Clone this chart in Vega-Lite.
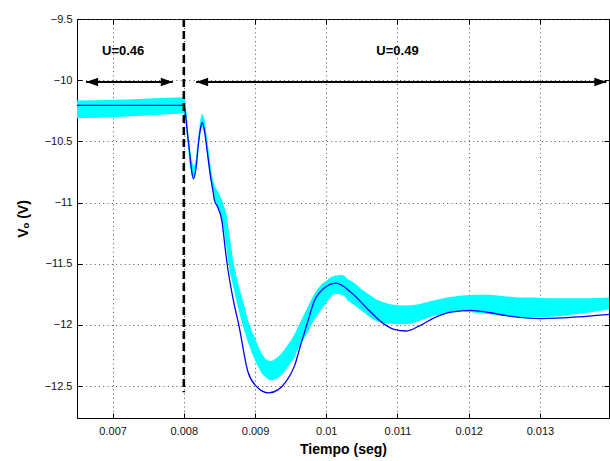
{
  "$schema": "https://vega.github.io/schema/vega-lite/v6.json",
  "width": 532,
  "height": 399,
  "autosize": {"type": "none"},
  "padding": {"left": 77, "top": 19, "right": 1, "bottom": 43},
  "background": "white",
  "config": {
    "view": {"stroke": "black", "strokeWidth": 1},
    "font": "Liberation Sans",
    "axis": {
      "domainColor": "black",
      "domainWidth": 1,
      "tickColor": "black",
      "tickSize": -5,
      "tickWidth": 1,
      "labelFont": "Liberation Sans",
      "labelFontSize": 11,
      "labelColor": "#111",
      "titleFont": "Liberation Sans",
      "titleFontSize": 14,
      "titleFontWeight": "bold",
      "titleColor": "black",
      "gridColor": "#555",
      "gridDash": [1, 3.3],
      "gridWidth": 1,
      "gridOpacity": 1
    }
  },
  "resolve": {"axis": {"x": "independent", "y": "independent"}},
  "datasets": {
    "cyan": [
      {"t": 0.0065, "hi": -10.165, "lo": -10.31},
      {"t": 0.0068, "hi": -10.163, "lo": -10.306},
      {"t": 0.0072, "hi": -10.157, "lo": -10.297},
      {"t": 0.0076, "hi": -10.148, "lo": -10.285},
      {"t": 0.0079, "hi": -10.142, "lo": -10.275},
      {"t": 0.0080, "hi": -10.14, "lo": -10.27},
      {"t": 0.00802, "hi": -10.16, "lo": -10.3},
      {"t": 0.00805, "hi": -10.35, "lo": -10.5},
      {"t": 0.00808, "hi": -10.55, "lo": -10.68},
      {"t": 0.00811, "hi": -10.66, "lo": -10.78},
      {"t": 0.00814, "hi": -10.71, "lo": -10.8},
      {"t": 0.00817, "hi": -10.64, "lo": -10.74},
      {"t": 0.0082, "hi": -10.47, "lo": -10.56},
      {"t": 0.00823, "hi": -10.33, "lo": -10.43},
      {"t": 0.008257, "hi": -10.27, "lo": -10.38},
      {"t": 0.00829, "hi": -10.32, "lo": -10.44},
      {"t": 0.00832, "hi": -10.45, "lo": -10.57},
      {"t": 0.00835, "hi": -10.58, "lo": -10.7},
      {"t": 0.00838, "hi": -10.72, "lo": -10.82},
      {"t": 0.00841, "hi": -10.82, "lo": -10.92},
      {"t": 0.00844, "hi": -10.87, "lo": -10.98},
      {"t": 0.00847, "hi": -10.9, "lo": -11.03},
      {"t": 0.0085, "hi": -10.93, "lo": -11.07},
      {"t": 0.00855, "hi": -11.0, "lo": -11.17},
      {"t": 0.0086, "hi": -11.1, "lo": -11.38},
      {"t": 0.00865, "hi": -11.3, "lo": -11.58},
      {"t": 0.0087, "hi": -11.5, "lo": -11.7},
      {"t": 0.00875, "hi": -11.63, "lo": -11.83},
      {"t": 0.0088, "hi": -11.74, "lo": -11.95},
      {"t": 0.00885, "hi": -11.84, "lo": -12.05},
      {"t": 0.0089, "hi": -11.96, "lo": -12.14},
      {"t": 0.00895, "hi": -12.04, "lo": -12.22},
      {"t": 0.009, "hi": -12.11, "lo": -12.29},
      {"t": 0.00905, "hi": -12.18, "lo": -12.35},
      {"t": 0.0091, "hi": -12.24, "lo": -12.4},
      {"t": 0.00915, "hi": -12.28, "lo": -12.43},
      {"t": 0.0092, "hi": -12.295, "lo": -12.45},
      {"t": 0.00925, "hi": -12.29, "lo": -12.45},
      {"t": 0.0093, "hi": -12.27, "lo": -12.44},
      {"t": 0.00935, "hi": -12.245, "lo": -12.42},
      {"t": 0.0094, "hi": -12.21, "lo": -12.39},
      {"t": 0.00945, "hi": -12.17, "lo": -12.35},
      {"t": 0.0095, "hi": -12.13, "lo": -12.31},
      {"t": 0.00955, "hi": -12.08, "lo": -12.27},
      {"t": 0.0096, "hi": -12.02, "lo": -12.2},
      {"t": 0.00965, "hi": -11.96, "lo": -12.15},
      {"t": 0.0097, "hi": -11.9, "lo": -12.1},
      {"t": 0.00975, "hi": -11.84, "lo": -12.05},
      {"t": 0.0098, "hi": -11.78, "lo": -11.99},
      {"t": 0.00985, "hi": -11.73, "lo": -11.94},
      {"t": 0.0099, "hi": -11.69, "lo": -11.9},
      {"t": 0.00995, "hi": -11.66, "lo": -11.86},
      {"t": 0.01, "hi": -11.64, "lo": -11.82},
      {"t": 0.01005, "hi": -11.615, "lo": -11.78},
      {"t": 0.0101, "hi": -11.6, "lo": -11.75},
      {"t": 0.01015, "hi": -11.595, "lo": -11.745},
      {"t": 0.0102, "hi": -11.59, "lo": -11.75},
      {"t": 0.01025, "hi": -11.595, "lo": -11.76},
      {"t": 0.0103, "hi": -11.625, "lo": -11.8},
      {"t": 0.0104, "hi": -11.66, "lo": -11.84},
      {"t": 0.0105, "hi": -11.71, "lo": -11.885},
      {"t": 0.0106, "hi": -11.75, "lo": -11.93},
      {"t": 0.0107, "hi": -11.79, "lo": -11.967},
      {"t": 0.0108, "hi": -11.815, "lo": -11.985},
      {"t": 0.0109, "hi": -11.83, "lo": -11.99},
      {"t": 0.011, "hi": -11.838, "lo": -11.995},
      {"t": 0.0111, "hi": -11.84, "lo": -11.995},
      {"t": 0.0112, "hi": -11.838, "lo": -11.99},
      {"t": 0.0113, "hi": -11.83, "lo": -11.967},
      {"t": 0.0115, "hi": -11.8, "lo": -11.926},
      {"t": 0.0117, "hi": -11.776, "lo": -11.9},
      {"t": 0.0119, "hi": -11.76, "lo": -11.885},
      {"t": 0.0121, "hi": -11.754, "lo": -11.9},
      {"t": 0.0123, "hi": -11.754, "lo": -11.913},
      {"t": 0.0125, "hi": -11.765, "lo": -11.926},
      {"t": 0.0127, "hi": -11.776, "lo": -11.934},
      {"t": 0.0129, "hi": -11.776, "lo": -11.934},
      {"t": 0.0131, "hi": -11.781, "lo": -11.934},
      {"t": 0.0133, "hi": -11.781, "lo": -11.926},
      {"t": 0.0135, "hi": -11.781, "lo": -11.913},
      {"t": 0.0137, "hi": -11.781, "lo": -11.899},
      {"t": 0.01397, "hi": -11.776, "lo": -11.871}
    ],
    "blue": [
      {"t": 0.0065, "v": -10.205},
      {"t": 0.008, "v": -10.205},
      {"t": 0.008018, "v": -10.25},
      {"t": 0.00805, "v": -10.43},
      {"t": 0.008079, "v": -10.574},
      {"t": 0.008103, "v": -10.71},
      {"t": 0.008135, "v": -10.806},
      {"t": 0.008173, "v": -10.71},
      {"t": 0.008205, "v": -10.52},
      {"t": 0.008233, "v": -10.4},
      {"t": 0.008257, "v": -10.345},
      {"t": 0.008289, "v": -10.41},
      {"t": 0.008327, "v": -10.574},
      {"t": 0.008369, "v": -10.765},
      {"t": 0.008407, "v": -10.9},
      {"t": 0.00843, "v": -10.98},
      {"t": 0.008478, "v": -11.04},
      {"t": 0.008534, "v": -11.148},
      {"t": 0.008584, "v": -11.39},
      {"t": 0.008608, "v": -11.5},
      {"t": 0.008697, "v": -11.803},
      {"t": 0.008772, "v": -12.0},
      {"t": 0.008899, "v": -12.38},
      {"t": 0.009015, "v": -12.5},
      {"t": 0.0091, "v": -12.54},
      {"t": 0.009194, "v": -12.555},
      {"t": 0.00932, "v": -12.53},
      {"t": 0.009437, "v": -12.46},
      {"t": 0.009553, "v": -12.336},
      {"t": 0.009647, "v": -12.15},
      {"t": 0.009742, "v": -11.97},
      {"t": 0.009834, "v": -11.8},
      {"t": 0.0099, "v": -11.74},
      {"t": 0.01, "v": -11.685},
      {"t": 0.010139, "v": -11.658},
      {"t": 0.01035, "v": -11.735},
      {"t": 0.010584, "v": -11.871},
      {"t": 0.010818, "v": -11.995},
      {"t": 0.01095, "v": -12.035},
      {"t": 0.011122, "v": -12.049},
      {"t": 0.0113, "v": -12.01},
      {"t": 0.01152, "v": -11.94},
      {"t": 0.01175, "v": -11.895},
      {"t": 0.012035, "v": -11.88},
      {"t": 0.0123, "v": -11.9},
      {"t": 0.012551, "v": -11.926},
      {"t": 0.013018, "v": -11.948},
      {"t": 0.013534, "v": -11.934},
      {"t": 0.013978, "v": -11.913}
    ],
    "arrows": [
      {"a": 0.006628, "b": 0.007845, "y": -10.015},
      {"a": 0.008173, "b": 0.013933, "y": -10.015}
    ],
    "heads": [
      {"t": 0.006628, "y": -10.015, "dir": "L"},
      {"t": 0.007845, "y": -10.015, "dir": "R"},
      {"t": 0.008173, "y": -10.015, "dir": "L"},
      {"t": 0.013933, "y": -10.015, "dir": "R"}
    ],
    "labels": [
      {"t": 0.007148, "y": -9.762, "txt": "U=0.46"},
      {"t": 0.011, "y": -9.762, "txt": "U=0.49"}
    ],
    "vline": [
      {"t": 0.008, "y1": -9.5, "y2": -12.55}
    ]
  },
  "layer": [
    {
      "data": {"name": "cyan"},
      "mark": {"type": "area", "color": "#00FFFF", "opacity": 1, "interpolate": "linear"},
      "encoding": {
        "x": {
          "field": "t", "type": "quantitative",
          "scale": {"domain": [0.0065, 0.01397], "nice": false, "zero": false},
          "axis": {"orient": "bottom", "grid": true, "values": [0.007, 0.008, 0.009, 0.01, 0.011, 0.012, 0.013], "format": "~f", "title": "Tiempo (seg)", "labelPadding": 12, "titlePadding": 6}
        },
        "y": {
          "field": "hi", "type": "quantitative",
          "scale": {"domain": [-12.76, -9.5], "nice": false, "zero": false},
          "axis": {"orient": "left", "grid": true, "values": [-12.5, -12, -11.5, -11, -10.5, -10, -9.5], "format": "~f", "title": "Vₒ (V)", "labelPadding": 10, "titlePadding": 14}
        },
        "y2": {"field": "lo"}
      }
    },
    {
      "data": {"name": "blue"},
      "mark": {"type": "line", "color": "#0000FF", "strokeWidth": 1.3, "interpolate": "monotone"},
      "encoding": {
        "x": {"field": "t", "type": "quantitative", "axis": null},
        "y": {"field": "v", "type": "quantitative", "axis": null}
      }
    },
    {
      "data": {"name": "vline"},
      "mark": {"type": "rule", "color": "black", "strokeWidth": 2.6, "strokeDash": [8, 4]},
      "encoding": {
        "x": {"field": "t", "type": "quantitative", "axis": null},
        "y": {"field": "y1", "type": "quantitative", "axis": null},
        "y2": {"field": "y2"}
      }
    },
    {
      "data": {"name": "arrows"},
      "mark": {"type": "rule", "color": "black", "strokeWidth": 2},
      "encoding": {
        "x": {"field": "a", "type": "quantitative", "axis": null},
        "x2": {"field": "b"},
        "y": {"field": "y", "type": "quantitative", "axis": null}
      }
    },
    {
      "data": {"name": "heads"},
      "mark": {"type": "point", "filled": true, "color": "black", "opacity": 1, "size": 144},
      "encoding": {
        "x": {"field": "t", "type": "quantitative", "axis": null},
        "y": {"field": "y", "type": "quantitative", "axis": null},
        "shape": {
          "field": "dir", "type": "nominal", "legend": null,
          "scale": {"domain": ["L", "R"], "range": ["M0,0L2,-0.72L2,0.72Z", "M0,0L-2,-0.72L-2,0.72Z"]}
        }
      }
    },
    {
      "data": {"name": "labels"},
      "mark": {"type": "text", "font": "Liberation Sans", "fontSize": 13, "fontWeight": "bold", "color": "black", "align": "center", "baseline": "middle"},
      "encoding": {
        "x": {"field": "t", "type": "quantitative", "axis": null},
        "y": {"field": "y", "type": "quantitative", "axis": null},
        "text": {"field": "txt"}
      }
    },
    {
      "data": {"name": "heads"},
      "mark": {"type": "point", "opacity": 0},
      "encoding": {
        "x": {"field": "t", "type": "quantitative", "axis": {"orient": "top", "labels": false, "title": null, "grid": false, "domain": false, "values": [0.007, 0.008, 0.009, 0.01, 0.011, 0.012, 0.013]}},
        "y": {"field": "y", "type": "quantitative", "axis": {"orient": "right", "labels": false, "title": null, "grid": false, "domain": false, "values": [-12.5, -12, -11.5, -11, -10.5, -10, -9.5]}}
      }
    }
  ]
}
